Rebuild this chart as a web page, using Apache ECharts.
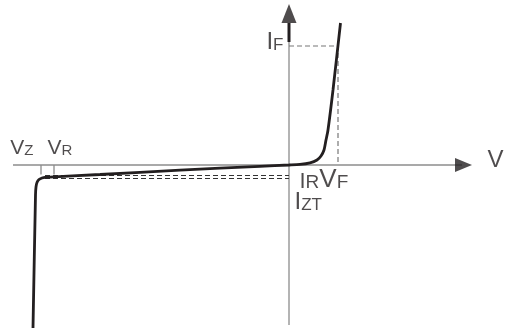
<!DOCTYPE html>
<html lang="en">
<head>
    <meta charset="UTF-8">
    <title>Diode I-V characteristic</title>
    <script src="https://cdn.jsdelivr.net/npm/echarts@6.0.0/dist/echarts.min.js"></script>
    <style type="text/css">
        html, body { margin: 0; padding: 0; background: #fff; }
        #chart { width: 511px; height: 331px; }
    </style>
</head>
<body>
    <div id="chart"></div>
    <script>
        // schematic units, origin where the axes cross
        var curveV = [-256, -253.5, -253, -252, -250, -247, -244, -189, -109, -29, 0, 11, 21, 28, 32, 35, 37, 39, 44, 51.5];
        var curveI = [-163, -30, -22, -17.5, -14.5, -13, -12.3, -9.5, -5.2, -1.3, 0, 0.6, 2.2, 5, 9, 15, 25, 35, 75, 142];

        // marked points on the curve
        var Vz = -248, VR = -235, VF = 49;
        var IF = 119, IR = -10.5, IZT = -13.5;

        // axis extents
        var vAxisEnd = [-276, 183];
        var iAxisEnd = [-160, 161];

        var ink = '#231f20';
        var grey = '#8c8c8c';
        var font = 'Liberation Sans';

        function pts(xs, ys) {
            return xs.map(function (x, i) { return [x, ys[i]]; });
        }

        function seg(data, color, width, type) {
            return {
                type: 'line', data: data, symbol: 'none', silent: true,
                lineStyle: { color: color, width: width, type: type || 'solid' }, z: 1
            };
        }

        function tok(size) {
            return { fontSize: size, fontFamily: font, color: ink, verticalAlign: 'bottom' };
        }

        var chart = echarts.init(document.getElementById('chart'));

        var option = {
            animation: false,
            grid: { left: 0, right: 0, top: 0, bottom: 0 },
            xAxis: { type: 'value', min: -289, max: 222, show: false },
            yAxis: { type: 'value', min: -166, max: 165, show: false },
            series: [
                // axes
                seg([[vAxisEnd[0], 0], [vAxisEnd[1] - 10, 0]], grey, 1.3),
                seg([[0, iAxisEnd[0]], [0, iAxisEnd[1] - 19]], grey, 1.3),
                seg([[0, iAxisEnd[1] - 19], [0, iAxisEnd[1] - 38]], ink, 3),
                // zener ticks
                seg([[Vz, 0], [Vz, -9.5]], grey, 1.3),
                seg([[VR, 0], [VR, -9.5]], grey, 1.3),
                // guide lines
                seg([[0, IF], [VF, IF], [VF, 0]], '#777', 1.2, [5, 3]),
                seg([[Vz + 4, IR], [0, IR]], '#333', 1.2, [5, 3]),
                seg([[Vz + 4, IZT], [0, IZT]], '#333', 1.2, [5, 3]),
                // the characteristic
                {
                    type: 'line', data: pts(curveV, curveI), symbol: 'none', smooth: 0.25,
                    lineStyle: { color: ink, width: 2.8 }, z: 3
                },
                // arrow heads
                {
                    type: 'scatter', silent: true, symbol: 'triangle', z: 4,
                    itemStyle: { color: ink },
                    data: [
                        { value: [vAxisEnd[1] - 8.5, 0], symbolSize: [14, 17], symbolRotate: -90 },
                        { value: [0, iAxisEnd[1] - 9.5], symbolSize: [15, 19], symbolRotate: 0 }
                    ]
                },
                // labels
                {
                    type: 'scatter', silent: true, symbolSize: 1, z: 5,
                    itemStyle: { color: 'transparent' },
                    label: {
                        show: true, position: [0, 0],
                        rich: {
                            L: tok(24), l: tok(17), M: tok(19), m: tok(15),
                            Vz: tok(21), I22: tok(22), V25: tok(26)
                        }
                    },
                    data: [
                        { value: [0, IF], label: { formatter: '{L|I}{l|F}', align: 'right', verticalAlign: 'bottom', offset: [-5, 8.6] } },
                        { value: [Vz, 0], label: { formatter: '{Vz|V}{m|Z}', align: 'right', verticalAlign: 'bottom', offset: [-7, -6] } },
                        { value: [VR, 0], label: { formatter: '{Vz|V}{m|R}', align: 'left', verticalAlign: 'bottom', offset: [-6, -6] } },
                        { value: [0, 0], label: { formatter: '{I22|I}{M|R}{V25|V}{M|F}', align: 'left', verticalAlign: 'bottom', offset: [11, 28] } },
                        { value: [0, 0], label: { formatter: '{L|I}{l|ZT}', align: 'left', verticalAlign: 'bottom', offset: [6, 49.6] } },
                        { value: [vAxisEnd[1], 0], label: { formatter: '{L|V}', align: 'left', verticalAlign: 'bottom', offset: [16, 7.6] } }
                    ]
                }
            ]
        };

        chart.setOption(option);
    </script>
</body>
</html>
